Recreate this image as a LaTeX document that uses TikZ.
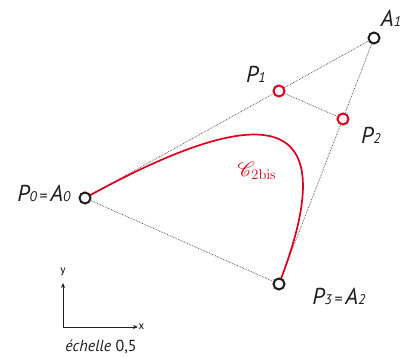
\documentclass[tikz,border=0pt]{standalone}
\usepackage[no-math]{fontspec}
\setmainfont{PT Sans}
\usepackage{mathrsfs}
\usetikzlibrary{arrows.meta}
\definecolor{cred}{RGB}{220,0,30}
\definecolor{ink}{RGB}{30,30,30}
\tikzset{
  guide/.style={densely dotted, line width=0.7pt, ink!85},
  blackpt/.style={circle, draw=ink, line width=2pt, minimum size=11pt, inner sep=0pt, fill=white},
  redpt/.style={circle, draw=cred, line width=2pt, minimum size=11pt, inner sep=0pt, fill=white},
  lab/.style={font=\fontsize{23}{23}\selectfont\itshape, text=ink, inner sep=0pt},
  axis/.style={line width=0.7pt, ink, -{Stealth[length=5pt,width=4pt]}},
}
\newcommand{\sbs}[1]{{\fontsize{14}{14}\selectfont #1}}
\newcommand{\eqs}{{\upshape\fontsize{16}{16}\selectfont\,=\,}}
\begin{document}
\begin{tikzpicture}[x=1pt,y=-1pt]
\useasboundingbox (0,0) rectangle (409,358);
\coordinate (p0) at (85,198);
\coordinate (a1) at (374,38);
\coordinate (p1) at (279,91);
\coordinate (p2) at (343,119);
\coordinate (p3) at (279,284);
\draw[guide] (p0) -- (a1) -- (p3) -- cycle;
\draw[guide] (p1) -- (p2);
\draw[cred, line width=1.7pt] (p0) .. controls (p1) and (p2) .. (p3);
\node[blackpt] (P0) at (p0) {};
\node[blackpt] (A1) at (a1) {};
\node[blackpt] (P3) at (p3) {};
\node[redpt] (P1) at (p1) {};
\node[redpt] (P2) at (p2) {};
\node[lab] (l0) at (44,193) {P\sbs{0}\eqs A\sbs{0}};
\node[lab] (la1) at (391,18) {A\sbs{1}};
\node[lab] (lp1) at (256,74) {P\sbs{1}};
\node[lab] (lp2) at (371,135) {P\sbs{2}};
\node[lab] (lp3) at (339,296) {P\sbs{3}\eqs A\sbs{2}};
\node[text=cred, inner sep=0pt, font=\fontsize{20}{20}\selectfont] (cl) at (257,171) {$\mathscr{C}_{\mathrm{2bis}}$};
\coordinate (o) at (63,327);
\coordinate (ox) at (138,327);
\coordinate (oy) at (63,283);
\draw[axis] (o) -- (ox);
\draw[axis] (o) -- (oy);
\node[font=\fontsize{11}{11}\selectfont, inner sep=0pt, anchor=west] (lx) at (138.5,327) {x};
\node[font=\fontsize{11}{11}\selectfont, inner sep=0pt] (ly) at (63,272) {y};
\node[font=\fontsize{16}{16}\selectfont, text=ink, inner sep=0pt] (sc) at (101,347) {\itshape échelle\upshape\ 0,5};
\end{tikzpicture}
\end{document}
